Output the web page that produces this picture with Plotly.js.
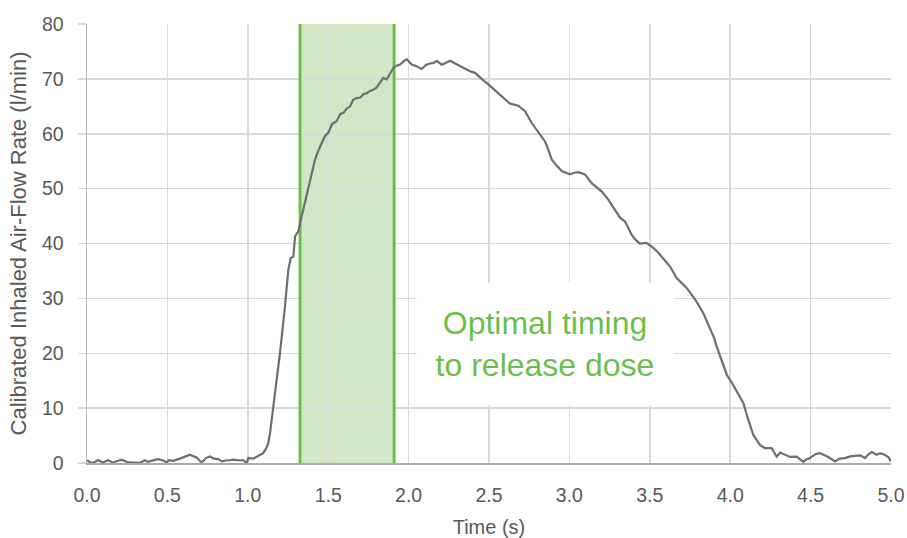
<!DOCTYPE html>
<html>
<head>
<meta charset="utf-8">
<script src="https://cdn.plot.ly/plotly-3.0.1.min.js"></script>
<style>html,body{margin:0;padding:0;background:#fff;}#chart{width:907px;height:538px;}</style>
</head>
<body>
<div id="chart"></div>
<script>
// Time (s)
const timeS = [0, 0.02, 0.037, 0.068, 0.1, 0.13, 0.16, 0.19, 0.215, 0.257, 0.3, 0.33, 0.36, 0.38, 0.4, 0.44, 0.47, 0.496, 0.51, 0.537, 0.578, 0.61, 0.64, 0.681, 0.713, 0.74, 0.765, 0.79, 0.816, 0.84, 0.868, 0.889, 0.909, 0.94, 0.972, 0.993, 1.003, 1.034, 1.076, 1.096, 1.117, 1.127, 1.138, 1.159, 1.18, 1.2, 1.231, 1.252, 1.267, 1.283, 1.294, 1.314, 1.335, 1.355, 1.376, 1.387, 1.418, 1.44, 1.46, 1.48, 1.501, 1.525, 1.553, 1.575, 1.595, 1.615, 1.636, 1.655, 1.677, 1.70, 1.719, 1.74, 1.76, 1.78, 1.80, 1.82, 1.843, 1.864, 1.885, 1.905, 1.925, 1.947, 1.965, 1.988, 2.019, 2.05, 2.081, 2.11, 2.133, 2.155, 2.175, 2.206, 2.23, 2.257, 2.29, 2.32, 2.35, 2.382, 2.413, 2.444, 2.47, 2.496, 2.53, 2.568, 2.60, 2.63, 2.682, 2.724, 2.765, 2.79, 2.817, 2.848, 2.87, 2.89, 2.92, 2.952, 3.004, 3.03, 3.055, 3.097, 3.138, 3.17, 3.2, 3.242, 3.28, 3.315, 3.346, 3.387, 3.41, 3.439, 3.48, 3.522, 3.55, 3.574, 3.6, 3.626, 3.667, 3.7, 3.729, 3.76, 3.791, 3.833, 3.874, 3.9, 3.916, 3.94, 3.958, 3.98, 4.009, 4.05, 4.082, 4.113, 4.144, 4.185, 4.216, 4.258, 4.289, 4.31, 4.33, 4.35, 4.372, 4.413, 4.435, 4.455, 4.47, 4.496, 4.53, 4.558, 4.58, 4.61, 4.652, 4.68, 4.714, 4.745, 4.776, 4.81, 4.838, 4.86, 4.88, 4.91, 4.932, 4.96, 4.983, 5.0];
// Calibrated inhaled air-flow rate (l/min)
const flowRate = [0.5, 0.1, 0, 0.5, 0.1, 0.5, 0.1, 0.3, 0.6, 0.1, 0.05, 0.05, 0.5, 0.2, 0.4, 0.7, 0.5, 0.1, 0.5, 0.4, 0.8, 1.1, 1.5, 1.0, 0.1, 0.9, 1.2, 0.8, 0.7, 0.3, 0.5, 0.5, 0.6, 0.5, 0.5, 0.0, 0.9, 0.8, 1.4, 1.8, 2.8, 3.6, 5.4, 10.3, 15.5, 20, 28.5, 35.2, 37.4, 37.6, 41.3, 42.2, 44.9, 47.5, 49.8, 51.6, 55.3, 57, 58.3, 59.6, 60.2, 61.8, 62.3, 63.6, 63.8, 64.6, 65, 66.2, 66.5, 66.6, 67.2, 67.4, 67.8, 68.0, 68.4, 69.2, 70.2, 69.9, 71.0, 72.0, 72.4, 72.6, 73.1, 73.6, 72.6, 72.3, 71.8, 72.6, 72.8, 72.9, 73.3, 72.6, 72.9, 73.3, 72.8, 72.3, 71.9, 71.4, 71.1, 70.2, 69.6, 69.0, 68.1, 67.2, 66.3, 65.5, 65.1, 64.1, 62.0, 61.0, 59.9, 58.6, 57.0, 55.3, 54.2, 53.2, 52.6, 52.9, 53.0, 52.6, 51.0, 50.3, 49.5, 48.0, 46.3, 44.7, 44.0, 41.6, 40.7, 40.0, 40.1, 39.2, 38.4, 37.6, 36.8, 35.8, 33.7, 32.8, 31.9, 30.7, 29.4, 27.3, 24.6, 22.8, 21.2, 19.2, 17.6, 16.0, 14.7, 12.7, 10.9, 7.8, 5.1, 3.3, 2.7, 2.7, 1.15, 1.9, 1.6, 1.3, 1.1, 1.15, 0.7, 0.2, 0.6, 0.9, 1.6, 1.8, 1.5, 1.1, 0.3, 0.8, 0.9, 1.2, 1.3, 1.4, 0.9, 1.6, 2.0, 1.5, 1.8, 1.5, 1.1, 0.3];

const bandStart = 1.325;
const bandEnd = 1.91;
const noteText = "Optimal timing<br>to release dose";
const xTitle = "Time (s)";
const yTitle = "Calibrated Inhaled Air-Flow Rate (l/min)";

const green = '#6cbf4c';
const fam = 'Liberation Sans, Arial, sans-serif';
const tickFont = {family: fam, size: 19.5, color: '#595959'};

const data = [{
  type: 'scatter', mode: 'lines', x: timeS, y: flowRate,
  line: {color: '#6e6e6e', width: 2.2}, hoverinfo: 'x+y', showlegend: false
}];

const layout = {
  width: 907, height: 538,
  margin: {l: 87, r: 16, t: 24, b: 75},
  paper_bgcolor: '#ffffff', plot_bgcolor: '#ffffff',
  font: tickFont,
  showlegend: false,
  xaxis: {
    range: [0, 5], dtick: 0.5, tick0: 0, tickformat: '.1f',
    showgrid: true, gridcolor: '#d9d9d9', gridwidth: 1.5,
    zeroline: false, showline: true, linecolor: '#ababab', linewidth: 2,
    ticks: '', ticklabelstandoff: 14, tickfont: tickFont,
    title: {text: xTitle, font: {family: fam, size: 20, color: '#595959'}, standoff: 15},
    automargin: false, fixedrange: true
  },
  yaxis: {
    range: [0, 80], dtick: 10, tick0: 0,
    showgrid: true, gridcolor: '#d9d9d9', gridwidth: 1.5,
    zeroline: false, showline: true, linecolor: '#b5b5b5', linewidth: 1.5,
    ticks: 'outside', ticklen: 8, tickcolor: '#d9d9d9', tickwidth: 1.5,
    ticklabelstandoff: 10, tickfont: tickFont,
    title: {text: yTitle, font: {family: fam, size: 22, color: '#595959'}, standoff: 9},
    automargin: false, fixedrange: true
  },
  shapes: [
    {type: 'rect', xref: 'x', yref: 'y', x0: bandStart, x1: bandEnd, y0: 0, y1: 80,
     fillcolor: '#d3e6c6', line: {width: 0}, layer: 'below'},
    {type: 'line', xref: 'x', yref: 'y', x0: bandStart, x1: bandStart, y0: 0, y1: 80,
     line: {color: green, width: 3}, layer: 'between'},
    {type: 'line', xref: 'x', yref: 'y', x0: bandEnd, x1: bandEnd, y0: 0, y1: 80,
     line: {color: green, width: 3}, layer: 'between'}
  ],
  annotations: [{
    xref: 'x', yref: 'y', x: 2.848, y: 21.7, xanchor: 'center', yanchor: 'middle',
    text: noteText, showarrow: false, align: 'center',
    font: {family: fam, size: 32, color: green},
    bgcolor: '#ffffff', borderpad: 0, width: 256, height: 122
  }]
};

Plotly.newPlot('chart', data, layout, {displayModeBar: false, staticPlot: true});
</script>
</body>
</html>
